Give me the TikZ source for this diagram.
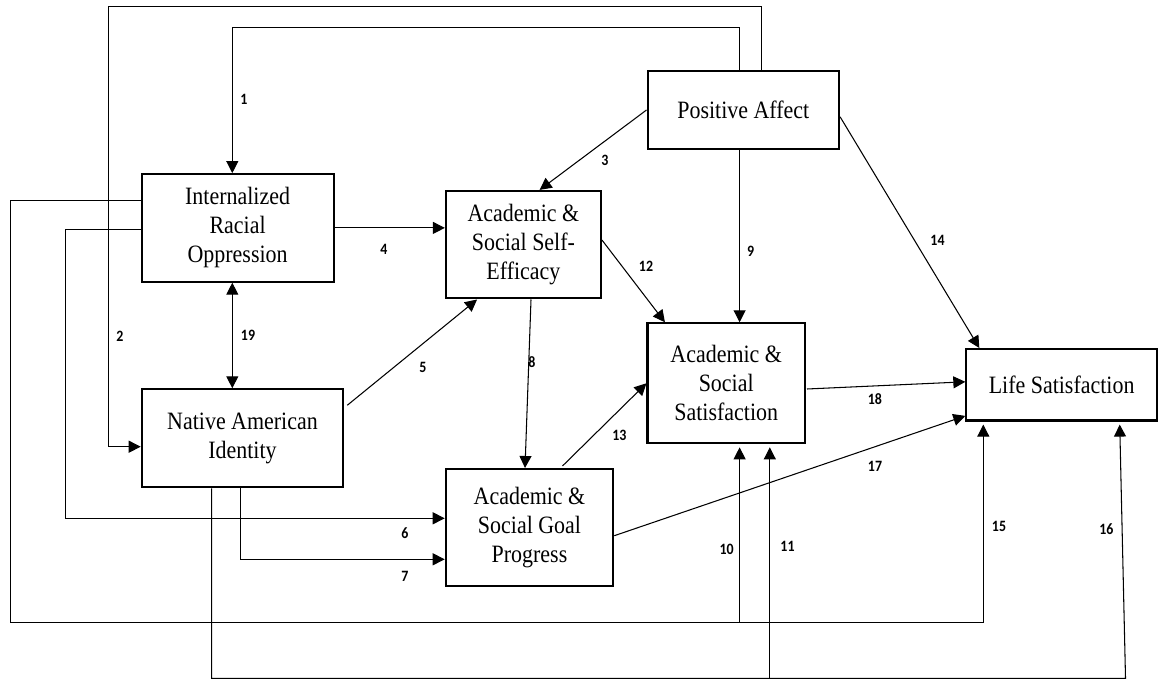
\documentclass[tikz,border=0pt]{standalone}
\usepackage{fontspec}
\setmainfont{Liberation Serif}[FakeStretch=0.88]
\newfontfamily\pathfont{Carlito}[FakeStretch=0.88]
\usetikzlibrary{arrows.meta,calc}

\tikzset{
  box/.style={draw, line width=1.2pt, align=center, inner sep=0pt, font=\fontsize{14.2}{16.5}\selectfont},
  arr/.style={line width=0.6pt, -{Triangle[length=2.4mm,width=2.4mm]}},
  arrboth/.style={line width=0.6pt, {Triangle[length=2.4mm,width=2.4mm]}-{Triangle[length=2.4mm,width=2.4mm]}},
  pathnum/.style={font=\pathfont\bfseries\fontsize{9}{10}\selectfont, inner sep=0pt}
}

\begin{document}
\begin{tikzpicture}[x=0.02cm,y=-0.02cm]
\useasboundingbox (0,0) rectangle (1158,682);

% variables
\node[box, minimum width=3.84cm, minimum height=2.15cm] (iro) at (237.6,227.9) {Internalized\\Racial\\Oppression};
\node[box, minimum width=4.03cm, minimum height=1.96cm] (nai) at (242.5,438.3) {Native American\\Identity};
\node[box, minimum width=3.10cm, minimum height=2.15cm] (se) at (523.4,244.7) {Academic \&\\Social Self-\\Efficacy};
\node[box, minimum width=3.35cm, minimum height=2.34cm] (agp) at (529.5,527.5) {Academic \&\\Social Goal\\Progress};
\node[box, minimum width=3.83cm, minimum height=1.57cm] (pa) at (743.3,109.8) {Positive Affect};
\node[box, minimum width=3.15cm, minimum height=2.40cm] (ass) at (726.2,383.3) {Academic \&\\Social\\Satisfaction};
\node[box, minimum width=3.81cm, minimum height=1.43cm] (ls) at (1061.6,384.8) {Life Satisfaction};

% corners of the long paths
\coordinate (topA) at (108.3,6.7);
\coordinate (topB) at (761.7,6.7);
\coordinate (topC) at (232.3,27.7);
\coordinate (topD) at (739.6,27.7);
\coordinate (midA) at (108.3,446.7);
\coordinate (leftA) at (10.3,200.7);
\coordinate (leftB) at (65.8,229.3);
\coordinate (botA) at (10.3,622.7);
\coordinate (botB) at (65.8,518.3);
\coordinate (botC) at (240.3,559.3);
\coordinate (botD) at (211.6,678.3);
\coordinate (botE) at (983.3,622.7);
\coordinate (botF) at (1125.5,678.3);
\coordinate (botG) at (769.8,678.3);

% paths
\draw[arr] (pa.north -| topD) -- (topD) -- (topC) -- (iro.north -| topC);
\draw[arr] (pa.north -| topB) -- (topB) -- (topA) -- (midA) -- (nai.west |- midA);
\draw[arr] ($(pa.west)+(0,0.2)$) -- ($(se.north)+(16.2,0)$);
\draw[arr] (iro.east) -- (iro.east -| se.west);
\draw[arr] ($(nai.north east)+(3,17)$) -- ($(se.south west)+(32.2,0)$);
\draw[arr] (iro.west |- leftB) -- (leftB) -- (botB) -- (agp.west |- botB);
\draw[arr] (nai.south -| botC) -- (botC) -- (agp.west |- botC);
\draw[arr] ($(se.south)+(7.6,0)$) -- ($(agp.north)+(-4.5,0)$);
\draw[arr] (pa.south -| topD) -- (ass.north -| topD);
\draw[arr] (iro.west |- leftA) -- (leftA) -- (botA) -- (botE) -- ($(ls.south -| botE)+(0,3)$);
\draw[arr] (botA -| topD) -- ($(ass.south -| topD)+(0,3)$);
\draw[arr] (nai.south -| botD) -- (botD) -- (botF) -- ($(ls.south west)+(154.4,3)$);
\draw[arr] (botG) -- ($(ass.south -| botG)+(0,3)$);
\draw[arr] ($(se.east)+(0,-4.7)$) -- ($(ass.north west)+(18.5,0)$);
\draw[arr] ($(agp.north)+(33,-2)$) -- (ass.west);
\draw[arr] ($(pa.east)+(0,7)$) -- ($(ls.north west)+(14,0)$);
\draw[arr] ($(agp.east)+(0,8.2)$) -- ($(ls.south west)+(0,-5.7)$);
\draw[arr] ($(ass.east)+(1,5.7)$) -- ($(ls.west)+(0,-3)$);
\draw[arrboth] (iro.south -| topC) -- (nai.north -| topC);

% path numbers
\node[pathnum] (p1) at (243.8,99) {1};
\node[pathnum] (p2) at (119.8,336) {2};
\node[pathnum] (p3) at (605,160) {3};
\node[pathnum] (p4) at (383.9,249.3) {4};
\node[pathnum] (p5) at (422.9,367.3) {5};
\node[pathnum] (p6) at (404.9,532.7) {6};
\node[pathnum] (p7) at (404.9,576.7) {7};
\node[pathnum] (p8) at (532,362.3) {8};
\node[pathnum] (p9) at (750.7,251.7) {9};
\node[pathnum] (p10) at (726.7,549) {10};
\node[pathnum] (p11) at (787.5,546.7) {11};
\node[pathnum] (p12) at (646,266.7) {12};
\node[pathnum] (p13) at (619.4,435) {13};
\node[pathnum] (p14) at (937.5,240.7) {14};
\node[pathnum] (p15) at (999,526.7) {15};
\node[pathnum] (p16) at (1106.4,529.3) {16};
\node[pathnum] (p17) at (875,466) {17};
\node[pathnum] (p18) at (874.9,399) {18};
\node[pathnum] (p19) at (248,335.5) {19};

\end{tikzpicture}
\end{document}
